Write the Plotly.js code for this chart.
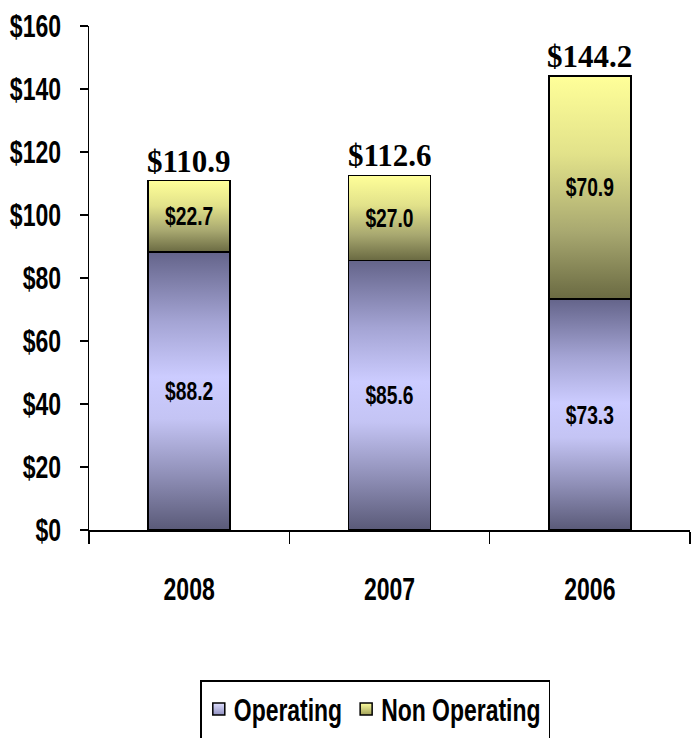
<!DOCTYPE html>
<html>
<head>
<meta charset="utf-8">
<script src="https://cdn.plot.ly/plotly-3.0.1.min.js"></script>
<style>
  html, body { margin: 0; padding: 0; background: #fff; }
  #chart { width: 693px; height: 738px; }
</style>
</head>
<body>
<div id="chart"></div>
<script>
// ---- data ----
const years = ['2008', '2007', '2006'];
const operating = [88.2, 85.6, 73.3];
const nonOperating = [22.7, 27.0, 70.9];
const totals = [110.9, 112.6, 144.2];
const seriesNames = ['Operating', 'Non Operating'];

const sans = '"Liberation Sans", Arial, sans-serif';
const serif = '"Liberation Serif", "Times New Roman", serif';
// horizontal squeeze to emulate a narrow face (Arial Narrow look)
const SQ_TICK = 0.72, SQ_BAR = 0.74, SQ_LEG = 0.74;

const traces = [
  {
    type: 'bar', name: seriesNames[0], x: years, y: operating,
    width: 0.41,
    marker: { color: '#9c9cc8', line: { color: '#000', width: 1.5 } },
    texttemplate: '$%{y:.1f}', textposition: 'inside', insidetextanchor: 'middle',
    textfont: { family: sans, size: 26, color: '#000', weight: 'bold' },
    constraintext: 'none', hoverinfo: 'none'
  },
  {
    type: 'bar', name: seriesNames[1], x: years, y: nonOperating,
    width: 0.41,
    marker: { color: '#c0c078', line: { color: '#000', width: 1.5 } },
    texttemplate: '$%{y:.1f}', textposition: 'inside', insidetextanchor: 'middle',
    textfont: { family: sans, size: 26, color: '#000', weight: 'bold' },
    constraintext: 'none', hoverinfo: 'none'
  }
];

const annotations = years.map((yr, i) => ({
  x: i, y: totals[i], xref: 'x', yref: 'y',
  text: '<b>$' + totals[i].toFixed(1) + '</b>',
  showarrow: false, yanchor: 'bottom', yshift: 0,
  font: { family: serif, size: 31, color: '#000' }
}));

const layout = {
  width: 693, height: 738,
  margin: { l: 89, r: 3, t: 26, b: 208, autoexpand: false },
  paper_bgcolor: '#fff', plot_bgcolor: '#fff',
  barmode: 'stack',
  showlegend: true,
  legend: {
    orientation: 'h', x: 0.476, xanchor: 'center', y: -0.3, yanchor: 'top',
    bordercolor: '#000', borderwidth: 1.5, bgcolor: '#fff',
    font: { family: sans, size: 31, color: '#000', weight: 'bold' },
    traceorder: 'normal', itemclick: false
  },
  xaxis: {
    type: 'category', range: [-0.5, 2.5], fixedrange: true,
    showline: true, linecolor: '#000', linewidth: 1.5,
    ticks: 'outside', ticklen: 12, tickwidth: 1.5, tickcolor: '#000',
    tickson: 'boundaries', ticklabelstandoff: 30,
    showgrid: false, zeroline: false,
    tickfont: { family: sans, size: 32, color: '#000', weight: 'bold' }
  },
  yaxis: {
    range: [0, 160], dtick: 20, tick0: 0, fixedrange: true,
    tickprefix: '$',
    showline: true, linecolor: '#000', linewidth: 1.5,
    ticks: 'outside', ticklen: 8, tickwidth: 1.5, tickcolor: '#000',
    ticklabelstandoff: 12,
    showgrid: false, zeroline: false,
    tickfont: { family: sans, size: 32, color: '#000', weight: 'bold' }
  },
  annotations: annotations
};

const gd = document.getElementById('chart');
Plotly.newPlot(gd, traces, layout, { staticPlot: true, displayModeBar: false }).then(() => {
  const NS = 'http://www.w3.org/2000/svg';
  const svg = gd.querySelector('.main-svg');
  let defs = svg.querySelector('defs');
  if (!defs) { defs = document.createElementNS(NS, 'defs'); svg.insertBefore(defs, svg.firstChild); }
  function grad(id, stops) {
    const g = document.createElementNS(NS, 'linearGradient');
    g.setAttribute('id', id);
    g.setAttribute('x1', '0'); g.setAttribute('y1', '0');
    g.setAttribute('x2', '0'); g.setAttribute('y2', '1');
    stops.forEach(s => {
      const st = document.createElementNS(NS, 'stop');
      st.setAttribute('offset', s[0]);
      st.setAttribute('stop-color', s[1]);
      g.appendChild(st);
    });
    defs.appendChild(g);
  }
  grad('gOp', [['0', '#64648a'], ['0.25', '#a4a4d4'], ['0.45', '#ccccff'], ['0.6', '#c4c4f4'], ['0.8', '#9090b8'], ['1', '#5a5a78']]);
  grad('gNon', [['0', '#ffff99'], ['0.35', '#e2e28a'], ['0.7', '#a8a870'], ['1', '#6a6a42']]);
  grad('gLOp', [['0', '#e0e0ff'], ['1', '#9090c0']]);
  grad('gLNon', [['0', '#ffffa0'], ['1', '#a0a058']]);
  const ids = ['gOp', 'gNon'];
  const lids = ['gLOp', 'gLNon'];
  gd.querySelectorAll('.barlayer .trace').forEach((t, i) => {
    t.querySelectorAll('path').forEach(p => { p.style.fill = 'url(#' + ids[i] + ')'; });
  });

  function squeeze(el, f) {
    const w = el.getComputedTextLength();
    if (w > 0) {
      el.setAttribute('textLength', (w * f).toFixed(2));
      el.setAttribute('lengthAdjust', 'spacingAndGlyphs');
    }
    return w * f;
  }
  gd.querySelectorAll('.xtick text, .ytick text').forEach(el => squeeze(el, SQ_TICK));
  gd.querySelectorAll('text.bartext').forEach(el => squeeze(el, SQ_BAR));

  // legend: squeeze text and re-pack items
  const leg = gd.querySelector('.legend');
  if (leg) {
    const items = leg.querySelectorAll('.traces');
    const sb = leg.querySelector('.scrollbox');
    if (sb) sb.removeAttribute('clip-path');
    const textX = 35, rowY = 28;
    let x = -2;
    let lastEnd = 0;
    items.forEach((it, i) => {
      it.querySelectorAll('.legendpoints path').forEach(p => { p.style.fill = 'url(#' + lids[i] + ')'; });
      const tx = it.querySelector('text.legendtext');
      const w = squeeze(tx, SQ_LEG);
      tx.setAttribute('x', textX);
      it.setAttribute('transform', 'translate(' + x + ',' + rowY + ')');
      lastEnd = x + textX + w;
      x = lastEnd + 18 - 14;
    });
    const boxW = lastEnd + 9;
    const bg = leg.querySelector('rect.bg');
    if (bg) {
      bg.setAttribute('x', 0); bg.setAttribute('y', 0);
      bg.setAttribute('width', boxW); bg.setAttribute('height', 80);
    }
    const sl = gd._fullLayout._size;
    const cx = sl.l + 0.476 * sl.w;
    const top = sl.t + sl.h + 151;
    leg.setAttribute('transform', 'translate(' + (cx - boxW / 2).toFixed(1) + ',' + top + ')');
  }
});
</script>
</body>
</html>
